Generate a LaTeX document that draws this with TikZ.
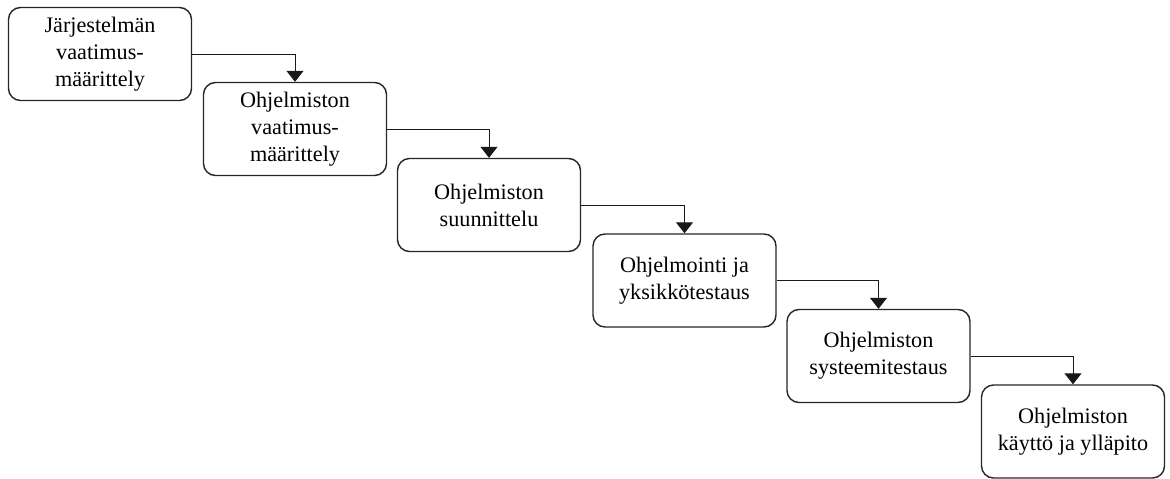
\documentclass[tikz,border=0pt]{standalone}
\usepackage{fontspec}
\setmainfont{Liberation Serif}
\usetikzlibrary{arrows.meta}
\begin{document}
\begin{tikzpicture}[x=1pt,y=-1pt,
  phase/.style={draw=black!85, line width=1.4pt, rounded corners=12pt,
    minimum width=183pt, minimum height=93pt, align=center,
    font=\fontsize{22.2}{27}\selectfont, inner sep=2pt},
  flow/.style={draw=black!90, line width=1pt,
    -{Triangle[width=17pt,length=11pt]}}]
\useasboundingbox (0,0) rectangle (1170,479);
\node[phase] (p1) at (100,54)    {Järjestelmän\\vaatimus-\\määrittely};
\node[phase] (p2) at (295,129)   {Ohjelmiston\\vaatimus-\\määrittely};
\node[phase] (p3) at (489,205)   {Ohjelmiston\\suunnittelu};
\node[phase] (p4) at (684.5,280.5) {Ohjelmointi ja\\yksikkötestaus};
\node[phase] (p5) at (878.5,356) {Ohjelmiston\\systeemitestaus};
\node[phase] (p6) at (1073,431.5) {Ohjelmiston\\käyttö ja ylläpito};
\foreach \a/\b in {p1/p2,p2/p3,p3/p4,p4/p5,p5/p6}
  \draw[flow] (\a.east) -| (\b.north);
\end{tikzpicture}
\end{document}
